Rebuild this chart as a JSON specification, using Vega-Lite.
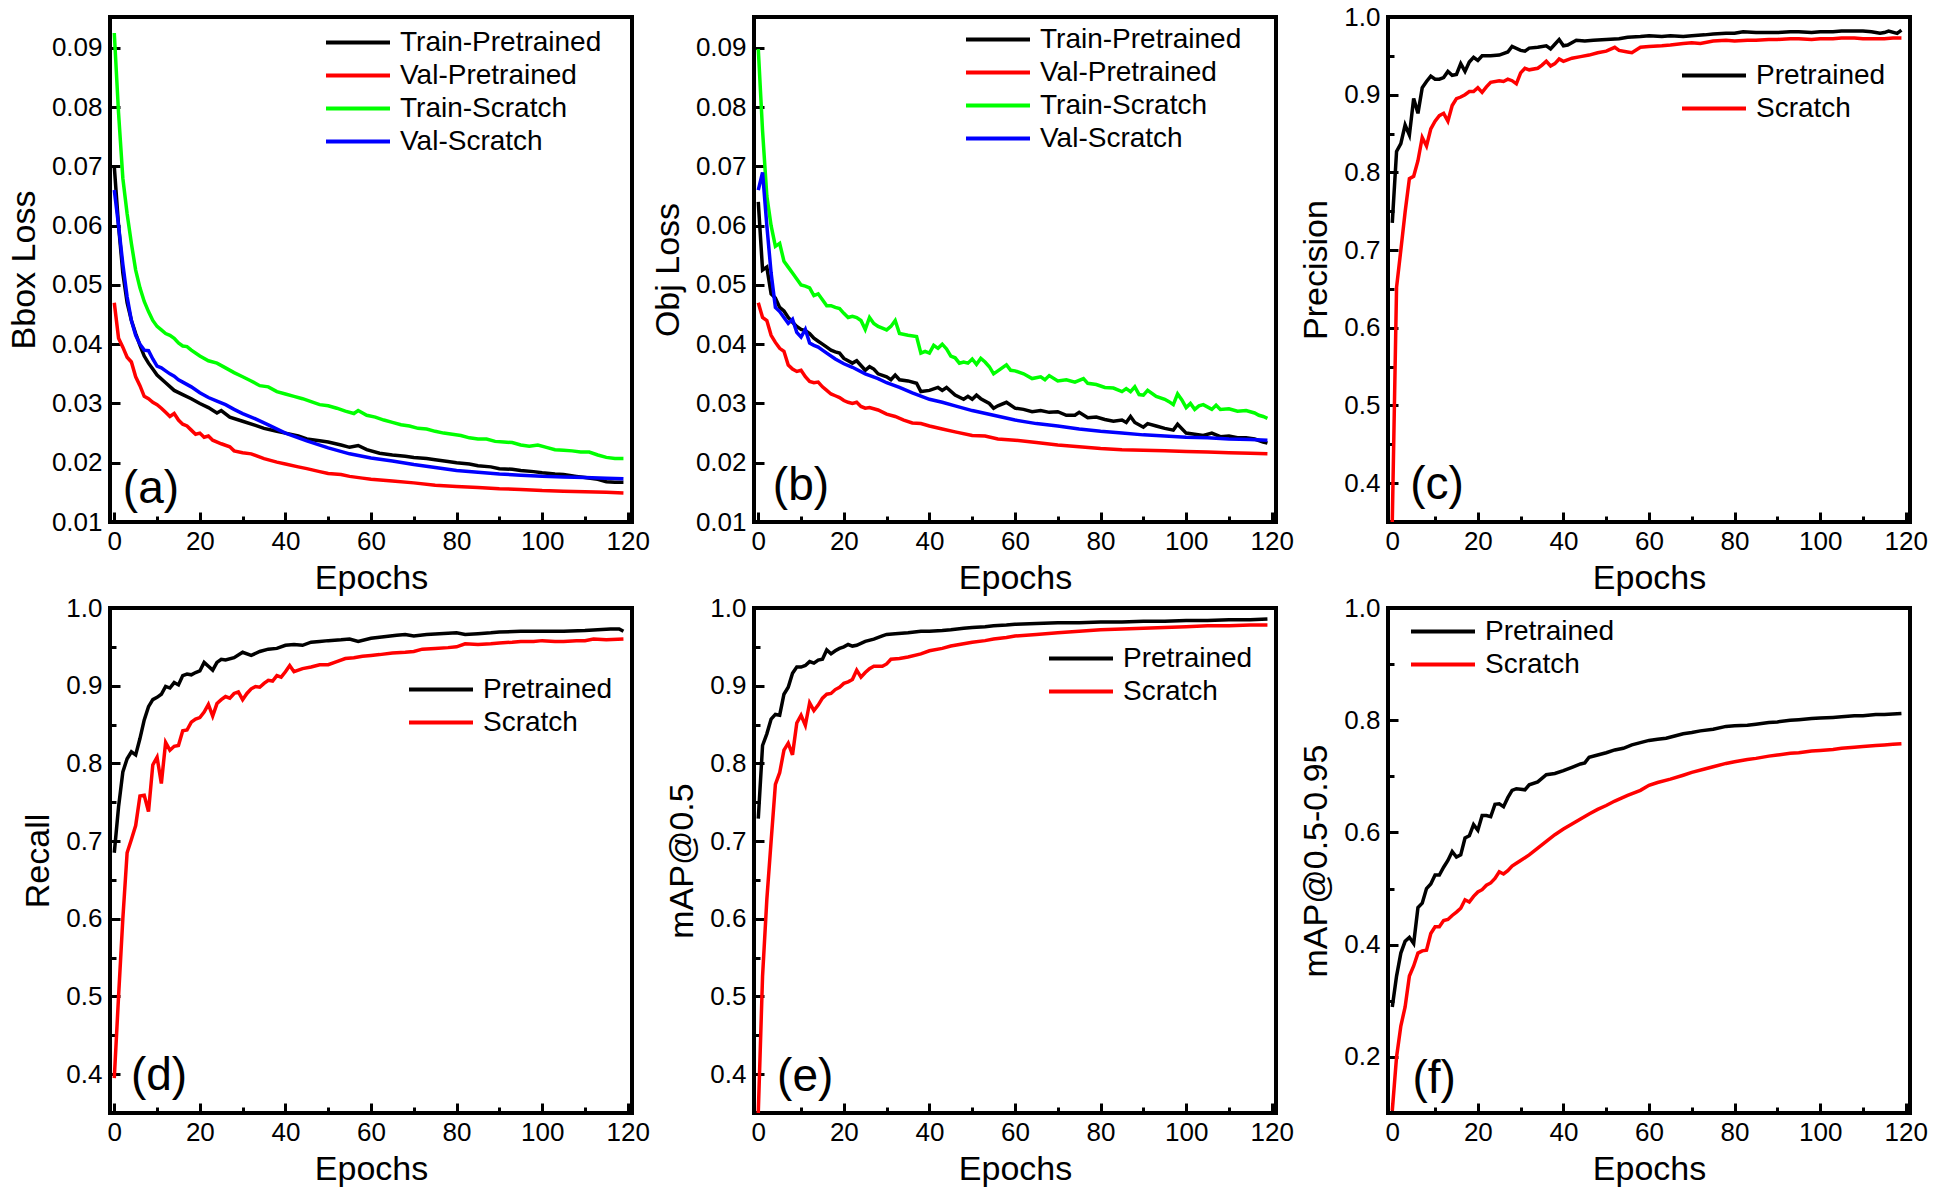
{
"$schema":"https://vega.github.io/schema/vega-lite/v6.json",
"background":"white",
"padding":{"left":5,"top":2,"right":0,"bottom":0},
"config":{
"font":"Liberation Sans",
"view":{"stroke":"#000000","strokeWidth":4},
"axis":{"domain":false,"grid":false,"labelFont":"Liberation Sans","labelFontSize":26,"labelColor":"#000000","titleFont":"Liberation Sans","titleFontSize":34,"titleFontWeight":"normal","titleColor":"#000000","tickColor":"#000000","tickWidth":3,"labelFlush":false,"labelOverlap":false},
"legend":{"orient":"none","labelFont":"Liberation Sans","labelFontSize":28,"labelColor":"#000000","labelLimit":500,"symbolType":"stroke","symbolStrokeWidth":4,"symbolSize":4096,"clipHeight":33,"rowPadding":0,"labelOffset":8,"padding":0}
},
"datasets":{
"a":[
{"e":0,"s":"TP","v":0.07},{"e":1,"s":"TP","v":0.06},{"e":2,"s":"TP","v":0.052},{"e":3,"s":"TP","v":0.047},{"e":4,"s":"TP","v":0.044},{"e":5,"s":"TP","v":0.0418},{"e":6,"s":"TP","v":0.0398},{"e":7,"s":"TP","v":0.038},{"e":8,"s":"TP","v":0.0368},{"e":9,"s":"TP","v":0.0358},{"e":10,"s":"TP","v":0.0348},{"e":12,"s":"TP","v":0.0335},{"e":14,"s":"TP","v":0.0322},{"e":16,"s":"TP","v":0.0315},{"e":18,"s":"TP","v":0.0308},{"e":20,"s":"TP","v":0.03},{"e":22,"s":"TP","v":0.0293},{"e":24,"s":"TP","v":0.0284},{"e":25,"s":"TP","v":0.0288},{"e":27,"s":"TP","v":0.0277},{"e":30,"s":"TP","v":0.027},{"e":33,"s":"TP","v":0.0263},{"e":35,"s":"TP","v":0.0258},{"e":38,"s":"TP","v":0.0253},{"e":40,"s":"TP","v":0.025},{"e":43,"s":"TP","v":0.0245},{"e":45,"s":"TP","v":0.024},{"e":48,"s":"TP","v":0.0237},{"e":50,"s":"TP","v":0.0235},{"e":53,"s":"TP","v":0.023},{"e":55,"s":"TP","v":0.0226},{"e":57,"s":"TP","v":0.0229},{"e":59,"s":"TP","v":0.0222},{"e":62,"s":"TP","v":0.0216},{"e":65,"s":"TP","v":0.0213},{"e":68,"s":"TP","v":0.0211},{"e":70,"s":"TP","v":0.0209},{"e":73,"s":"TP","v":0.0207},{"e":75,"s":"TP","v":0.0205},{"e":78,"s":"TP","v":0.0202},{"e":80,"s":"TP","v":0.02},{"e":83,"s":"TP","v":0.0198},{"e":85,"s":"TP","v":0.0195},{"e":88,"s":"TP","v":0.0193},{"e":90,"s":"TP","v":0.019},{"e":93,"s":"TP","v":0.0189},{"e":95,"s":"TP","v":0.0187},{"e":98,"s":"TP","v":0.0185},{"e":100,"s":"TP","v":0.0183},{"e":103,"s":"TP","v":0.0181},{"e":105,"s":"TP","v":0.018},{"e":108,"s":"TP","v":0.0177},{"e":110,"s":"TP","v":0.0175},{"e":113,"s":"TP","v":0.0172},{"e":115,"s":"TP","v":0.0168},{"e":117,"s":"TP","v":0.0167},{"e":119,"s":"TP","v":0.0167},
{"e":0,"s":"VP","v":0.047},{"e":1,"s":"VP","v":0.041},{"e":2,"s":"VP","v":0.0395},{"e":3,"s":"VP","v":0.0378},{"e":4,"s":"VP","v":0.037},{"e":5,"s":"VP","v":0.0345},{"e":6,"s":"VP","v":0.033},{"e":7,"s":"VP","v":0.0312},{"e":8,"s":"VP","v":0.0308},{"e":9,"s":"VP","v":0.0302},{"e":10,"s":"VP","v":0.0298},{"e":11,"s":"VP","v":0.0292},{"e":12,"s":"VP","v":0.0285},{"e":13,"s":"VP","v":0.0278},{"e":14,"s":"VP","v":0.0283},{"e":15,"s":"VP","v":0.0272},{"e":16,"s":"VP","v":0.0265},{"e":17,"s":"VP","v":0.0262},{"e":18,"s":"VP","v":0.0255},{"e":19,"s":"VP","v":0.0248},{"e":20,"s":"VP","v":0.025},{"e":21,"s":"VP","v":0.0243},{"e":22,"s":"VP","v":0.0245},{"e":23,"s":"VP","v":0.0238},{"e":25,"s":"VP","v":0.0232},{"e":27,"s":"VP","v":0.0227},{"e":28,"s":"VP","v":0.022},{"e":30,"s":"VP","v":0.0217},{"e":32,"s":"VP","v":0.0215},{"e":35,"s":"VP","v":0.0207},{"e":38,"s":"VP","v":0.0201},{"e":40,"s":"VP","v":0.0198},{"e":43,"s":"VP","v":0.0193},{"e":45,"s":"VP","v":0.019},{"e":48,"s":"VP","v":0.0185},{"e":50,"s":"VP","v":0.0182},{"e":53,"s":"VP","v":0.018},{"e":55,"s":"VP","v":0.0177},{"e":58,"s":"VP","v":0.0174},{"e":60,"s":"VP","v":0.0172},{"e":65,"s":"VP","v":0.0169},{"e":70,"s":"VP","v":0.0166},{"e":75,"s":"VP","v":0.0162},{"e":80,"s":"VP","v":0.016},{"e":85,"s":"VP","v":0.0158},{"e":90,"s":"VP","v":0.0156},{"e":95,"s":"VP","v":0.0155},{"e":100,"s":"VP","v":0.0153},{"e":105,"s":"VP","v":0.0152},{"e":110,"s":"VP","v":0.0151},{"e":115,"s":"VP","v":0.015},{"e":119,"s":"VP","v":0.0149},
{"e":0,"s":"TS","v":0.0925},{"e":1,"s":"TS","v":0.079},{"e":2,"s":"TS","v":0.068},{"e":3,"s":"TS","v":0.062},{"e":4,"s":"TS","v":0.057},{"e":5,"s":"TS","v":0.0525},{"e":6,"s":"TS","v":0.0495},{"e":7,"s":"TS","v":0.0472},{"e":8,"s":"TS","v":0.0455},{"e":9,"s":"TS","v":0.044},{"e":10,"s":"TS","v":0.043},{"e":11,"s":"TS","v":0.0424},{"e":12,"s":"TS","v":0.0418},{"e":13,"s":"TS","v":0.0415},{"e":14,"s":"TS","v":0.041},{"e":15,"s":"TS","v":0.0402},{"e":16,"s":"TS","v":0.0397},{"e":17,"s":"TS","v":0.0396},{"e":18,"s":"TS","v":0.039},{"e":20,"s":"TS","v":0.038},{"e":22,"s":"TS","v":0.0372},{"e":24,"s":"TS","v":0.0368},{"e":26,"s":"TS","v":0.036},{"e":28,"s":"TS","v":0.0352},{"e":30,"s":"TS","v":0.0345},{"e":32,"s":"TS","v":0.0338},{"e":34,"s":"TS","v":0.033},{"e":36,"s":"TS","v":0.0328},{"e":38,"s":"TS","v":0.032},{"e":40,"s":"TS","v":0.0316},{"e":42,"s":"TS","v":0.0312},{"e":44,"s":"TS","v":0.0308},{"e":46,"s":"TS","v":0.0303},{"e":48,"s":"TS","v":0.0298},{"e":50,"s":"TS","v":0.0296},{"e":52,"s":"TS","v":0.0292},{"e":54,"s":"TS","v":0.0287},{"e":56,"s":"TS","v":0.0283},{"e":57,"s":"TS","v":0.0288},{"e":59,"s":"TS","v":0.028},{"e":61,"s":"TS","v":0.0277},{"e":63,"s":"TS","v":0.0272},{"e":65,"s":"TS","v":0.0268},{"e":67,"s":"TS","v":0.0264},{"e":69,"s":"TS","v":0.0262},{"e":71,"s":"TS","v":0.0258},{"e":73,"s":"TS","v":0.0257},{"e":75,"s":"TS","v":0.0253},{"e":77,"s":"TS","v":0.025},{"e":79,"s":"TS","v":0.0248},{"e":81,"s":"TS","v":0.0246},{"e":83,"s":"TS","v":0.0242},{"e":85,"s":"TS","v":0.024},{"e":87,"s":"TS","v":0.024},{"e":89,"s":"TS","v":0.0236},{"e":91,"s":"TS","v":0.0235},{"e":93,"s":"TS","v":0.0234},{"e":95,"s":"TS","v":0.023},{"e":97,"s":"TS","v":0.0228},{"e":99,"s":"TS","v":0.023},{"e":101,"s":"TS","v":0.0226},{"e":103,"s":"TS","v":0.0222},{"e":105,"s":"TS","v":0.0221},{"e":107,"s":"TS","v":0.022},{"e":109,"s":"TS","v":0.0218},{"e":111,"s":"TS","v":0.0218},{"e":113,"s":"TS","v":0.0213},{"e":115,"s":"TS","v":0.0209},{"e":117,"s":"TS","v":0.0207},{"e":119,"s":"TS","v":0.0207},
{"e":0,"s":"VS","v":0.066},{"e":1,"s":"VS","v":0.06},{"e":2,"s":"VS","v":0.0535},{"e":3,"s":"VS","v":0.048},{"e":4,"s":"VS","v":0.044},{"e":5,"s":"VS","v":0.0415},{"e":6,"s":"VS","v":0.04},{"e":7,"s":"VS","v":0.039},{"e":8,"s":"VS","v":0.0389},{"e":9,"s":"VS","v":0.0375},{"e":10,"s":"VS","v":0.0363},{"e":11,"s":"VS","v":0.036},{"e":12,"s":"VS","v":0.0355},{"e":13,"s":"VS","v":0.035},{"e":14,"s":"VS","v":0.0346},{"e":15,"s":"VS","v":0.034},{"e":16,"s":"VS","v":0.0336},{"e":18,"s":"VS","v":0.0328},{"e":20,"s":"VS","v":0.0318},{"e":22,"s":"VS","v":0.031},{"e":24,"s":"VS","v":0.0304},{"e":26,"s":"VS","v":0.0298},{"e":28,"s":"VS","v":0.029},{"e":30,"s":"VS","v":0.0283},{"e":33,"s":"VS","v":0.0274},{"e":36,"s":"VS","v":0.0264},{"e":40,"s":"VS","v":0.025},{"e":45,"s":"VS","v":0.0237},{"e":50,"s":"VS","v":0.0225},{"e":55,"s":"VS","v":0.0215},{"e":60,"s":"VS","v":0.0208},{"e":65,"s":"VS","v":0.0203},{"e":70,"s":"VS","v":0.0197},{"e":75,"s":"VS","v":0.0192},{"e":80,"s":"VS","v":0.0187},{"e":85,"s":"VS","v":0.0184},{"e":90,"s":"VS","v":0.0181},{"e":95,"s":"VS","v":0.0179},{"e":100,"s":"VS","v":0.0177},{"e":105,"s":"VS","v":0.0176},{"e":110,"s":"VS","v":0.0175},{"e":115,"s":"VS","v":0.0174},{"e":119,"s":"VS","v":0.0173}
],
"b":[
{"e":0,"s":"TP","v":0.064},{"e":1,"s":"TP","v":0.0525},{"e":2,"s":"TP","v":0.053},{"e":3,"s":"TP","v":0.0485},{"e":4,"s":"TP","v":0.0478},{"e":5,"s":"TP","v":0.0462},{"e":6,"s":"TP","v":0.0456},{"e":7,"s":"TP","v":0.0445},{"e":8,"s":"TP","v":0.0437},{"e":9,"s":"TP","v":0.043},{"e":10,"s":"TP","v":0.0425},{"e":11,"s":"TP","v":0.0423},{"e":12,"s":"TP","v":0.0418},{"e":13,"s":"TP","v":0.041},{"e":14,"s":"TP","v":0.0405},{"e":15,"s":"TP","v":0.04},{"e":16,"s":"TP","v":0.0395},{"e":17,"s":"TP","v":0.039},{"e":18,"s":"TP","v":0.0387},{"e":19,"s":"TP","v":0.0385},{"e":20,"s":"TP","v":0.0376},{"e":21,"s":"TP","v":0.0372},{"e":22,"s":"TP","v":0.0368},{"e":23,"s":"TP","v":0.0372},{"e":24,"s":"TP","v":0.0364},{"e":25,"s":"TP","v":0.0356},{"e":26,"s":"TP","v":0.0362},{"e":27,"s":"TP","v":0.0358},{"e":28,"s":"TP","v":0.035},{"e":30,"s":"TP","v":0.0345},{"e":31,"s":"TP","v":0.034},{"e":32,"s":"TP","v":0.0348},{"e":33,"s":"TP","v":0.034},{"e":35,"s":"TP","v":0.0338},{"e":37,"s":"TP","v":0.0334},{"e":38,"s":"TP","v":0.032},{"e":40,"s":"TP","v":0.0322},{"e":42,"s":"TP","v":0.0327},{"e":43,"s":"TP","v":0.0322},{"e":44,"s":"TP","v":0.0327},{"e":46,"s":"TP","v":0.0314},{"e":48,"s":"TP","v":0.0307},{"e":49,"s":"TP","v":0.0312},{"e":50,"s":"TP","v":0.0307},{"e":51,"s":"TP","v":0.0314},{"e":52,"s":"TP","v":0.0308},{"e":54,"s":"TP","v":0.03},{"e":55,"s":"TP","v":0.0292},{"e":56,"s":"TP","v":0.0296},{"e":58,"s":"TP","v":0.0302},{"e":60,"s":"TP","v":0.0292},{"e":62,"s":"TP","v":0.029},{"e":64,"s":"TP","v":0.0286},{"e":66,"s":"TP","v":0.0288},{"e":68,"s":"TP","v":0.0285},{"e":70,"s":"TP","v":0.0286},{"e":72,"s":"TP","v":0.028},{"e":74,"s":"TP","v":0.028},{"e":75,"s":"TP","v":0.0285},{"e":77,"s":"TP","v":0.0276},{"e":79,"s":"TP","v":0.0277},{"e":81,"s":"TP","v":0.0273},{"e":83,"s":"TP","v":0.027},{"e":85,"s":"TP","v":0.0272},{"e":86,"s":"TP","v":0.0268},{"e":87,"s":"TP","v":0.0278},{"e":88,"s":"TP","v":0.0268},{"e":90,"s":"TP","v":0.026},{"e":91,"s":"TP","v":0.0266},{"e":93,"s":"TP","v":0.0262},{"e":95,"s":"TP","v":0.0258},{"e":97,"s":"TP","v":0.0255},{"e":98,"s":"TP","v":0.0265},{"e":100,"s":"TP","v":0.025},{"e":102,"s":"TP","v":0.0248},{"e":104,"s":"TP","v":0.0246},{"e":106,"s":"TP","v":0.025},{"e":108,"s":"TP","v":0.0244},{"e":110,"s":"TP","v":0.0245},{"e":112,"s":"TP","v":0.0242},{"e":114,"s":"TP","v":0.0242},{"e":116,"s":"TP","v":0.024},{"e":118,"s":"TP","v":0.0235},{"e":119,"s":"TP","v":0.0233},
{"e":0,"s":"VP","v":0.047},{"e":1,"s":"VP","v":0.0445},{"e":2,"s":"VP","v":0.044},{"e":3,"s":"VP","v":0.0415},{"e":4,"s":"VP","v":0.0403},{"e":5,"s":"VP","v":0.0393},{"e":6,"s":"VP","v":0.0388},{"e":7,"s":"VP","v":0.0365},{"e":8,"s":"VP","v":0.0358},{"e":9,"s":"VP","v":0.0354},{"e":10,"s":"VP","v":0.0356},{"e":11,"s":"VP","v":0.0345},{"e":12,"s":"VP","v":0.0337},{"e":13,"s":"VP","v":0.0335},{"e":14,"s":"VP","v":0.0336},{"e":15,"s":"VP","v":0.0328},{"e":16,"s":"VP","v":0.0322},{"e":17,"s":"VP","v":0.0316},{"e":18,"s":"VP","v":0.0313},{"e":19,"s":"VP","v":0.031},{"e":20,"s":"VP","v":0.0305},{"e":21,"s":"VP","v":0.0302},{"e":22,"s":"VP","v":0.03},{"e":23,"s":"VP","v":0.0302},{"e":24,"s":"VP","v":0.0295},{"e":25,"s":"VP","v":0.0292},{"e":26,"s":"VP","v":0.0293},{"e":28,"s":"VP","v":0.0289},{"e":30,"s":"VP","v":0.0282},{"e":32,"s":"VP","v":0.0278},{"e":34,"s":"VP","v":0.0272},{"e":36,"s":"VP","v":0.0267},{"e":38,"s":"VP","v":0.0266},{"e":40,"s":"VP","v":0.0262},{"e":43,"s":"VP","v":0.0257},{"e":46,"s":"VP","v":0.0252},{"e":50,"s":"VP","v":0.0246},{"e":53,"s":"VP","v":0.0245},{"e":56,"s":"VP","v":0.024},{"e":60,"s":"VP","v":0.0238},{"e":65,"s":"VP","v":0.0234},{"e":70,"s":"VP","v":0.023},{"e":75,"s":"VP","v":0.0227},{"e":80,"s":"VP","v":0.0224},{"e":85,"s":"VP","v":0.0222},{"e":90,"s":"VP","v":0.0221},{"e":95,"s":"VP","v":0.022},{"e":100,"s":"VP","v":0.0219},{"e":105,"s":"VP","v":0.0218},{"e":110,"s":"VP","v":0.0217},{"e":115,"s":"VP","v":0.0216},{"e":119,"s":"VP","v":0.0215},
{"e":0,"s":"TS","v":0.0898},{"e":1,"s":"TS","v":0.076},{"e":2,"s":"TS","v":0.065},{"e":3,"s":"TS","v":0.06},{"e":4,"s":"TS","v":0.0565},{"e":5,"s":"TS","v":0.057},{"e":6,"s":"TS","v":0.054},{"e":7,"s":"TS","v":0.053},{"e":8,"s":"TS","v":0.052},{"e":9,"s":"TS","v":0.051},{"e":10,"s":"TS","v":0.05},{"e":11,"s":"TS","v":0.0498},{"e":12,"s":"TS","v":0.0495},{"e":13,"s":"TS","v":0.0482},{"e":14,"s":"TS","v":0.0485},{"e":15,"s":"TS","v":0.0475},{"e":16,"s":"TS","v":0.0465},{"e":17,"s":"TS","v":0.0465},{"e":18,"s":"TS","v":0.0462},{"e":19,"s":"TS","v":0.046},{"e":20,"s":"TS","v":0.0452},{"e":21,"s":"TS","v":0.0445},{"e":22,"s":"TS","v":0.0447},{"e":23,"s":"TS","v":0.0445},{"e":24,"s":"TS","v":0.044},{"e":25,"s":"TS","v":0.0425},{"e":26,"s":"TS","v":0.0445},{"e":27,"s":"TS","v":0.0435},{"e":28,"s":"TS","v":0.043},{"e":29,"s":"TS","v":0.0427},{"e":30,"s":"TS","v":0.0424},{"e":31,"s":"TS","v":0.043},{"e":32,"s":"TS","v":0.044},{"e":33,"s":"TS","v":0.0418},{"e":35,"s":"TS","v":0.0415},{"e":37,"s":"TS","v":0.0413},{"e":38,"s":"TS","v":0.0385},{"e":39,"s":"TS","v":0.0388},{"e":40,"s":"TS","v":0.0385},{"e":41,"s":"TS","v":0.0398},{"e":42,"s":"TS","v":0.0393},{"e":43,"s":"TS","v":0.04},{"e":44,"s":"TS","v":0.0392},{"e":45,"s":"TS","v":0.038},{"e":46,"s":"TS","v":0.0377},{"e":47,"s":"TS","v":0.0368},{"e":48,"s":"TS","v":0.037},{"e":49,"s":"TS","v":0.0368},{"e":50,"s":"TS","v":0.0375},{"e":51,"s":"TS","v":0.0366},{"e":52,"s":"TS","v":0.0376},{"e":53,"s":"TS","v":0.037},{"e":54,"s":"TS","v":0.0362},{"e":55,"s":"TS","v":0.035},{"e":56,"s":"TS","v":0.0355},{"e":58,"s":"TS","v":0.0365},{"e":59,"s":"TS","v":0.0356},{"e":60,"s":"TS","v":0.0355},{"e":62,"s":"TS","v":0.035},{"e":64,"s":"TS","v":0.0342},{"e":66,"s":"TS","v":0.0345},{"e":67,"s":"TS","v":0.034},{"e":68,"s":"TS","v":0.0347},{"e":70,"s":"TS","v":0.0338},{"e":72,"s":"TS","v":0.034},{"e":74,"s":"TS","v":0.0336},{"e":76,"s":"TS","v":0.0342},{"e":77,"s":"TS","v":0.0334},{"e":79,"s":"TS","v":0.0332},{"e":81,"s":"TS","v":0.0327},{"e":83,"s":"TS","v":0.0326},{"e":85,"s":"TS","v":0.032},{"e":86,"s":"TS","v":0.0325},{"e":87,"s":"TS","v":0.032},{"e":88,"s":"TS","v":0.0328},{"e":89,"s":"TS","v":0.0315},{"e":90,"s":"TS","v":0.0314},{"e":91,"s":"TS","v":0.0322},{"e":93,"s":"TS","v":0.0312},{"e":95,"s":"TS","v":0.0307},{"e":96,"s":"TS","v":0.0303},{"e":97,"s":"TS","v":0.0298},{"e":98,"s":"TS","v":0.0316},{"e":99,"s":"TS","v":0.0306},{"e":100,"s":"TS","v":0.0293},{"e":101,"s":"TS","v":0.03},{"e":102,"s":"TS","v":0.029},{"e":103,"s":"TS","v":0.0296},{"e":104,"s":"TS","v":0.0298},{"e":106,"s":"TS","v":0.029},{"e":107,"s":"TS","v":0.0297},{"e":108,"s":"TS","v":0.029},{"e":110,"s":"TS","v":0.0291},{"e":112,"s":"TS","v":0.0287},{"e":114,"s":"TS","v":0.0288},{"e":116,"s":"TS","v":0.0284},{"e":117,"s":"TS","v":0.028},{"e":118,"s":"TS","v":0.0278},{"e":119,"s":"TS","v":0.0275},
{"e":0,"s":"VS","v":0.066},{"e":1,"s":"VS","v":0.069},{"e":2,"s":"VS","v":0.06},{"e":3,"s":"VS","v":0.052},{"e":4,"s":"VS","v":0.0462},{"e":5,"s":"VS","v":0.0455},{"e":6,"s":"VS","v":0.0445},{"e":7,"s":"VS","v":0.0435},{"e":8,"s":"VS","v":0.0442},{"e":9,"s":"VS","v":0.042},{"e":10,"s":"VS","v":0.0412},{"e":11,"s":"VS","v":0.0425},{"e":12,"s":"VS","v":0.0402},{"e":13,"s":"VS","v":0.0398},{"e":14,"s":"VS","v":0.0395},{"e":15,"s":"VS","v":0.039},{"e":16,"s":"VS","v":0.0385},{"e":18,"s":"VS","v":0.0375},{"e":20,"s":"VS","v":0.0367},{"e":22,"s":"VS","v":0.0361},{"e":25,"s":"VS","v":0.035},{"e":28,"s":"VS","v":0.0342},{"e":30,"s":"VS","v":0.0335},{"e":33,"s":"VS","v":0.0327},{"e":36,"s":"VS","v":0.0318},{"e":40,"s":"VS","v":0.0307},{"e":43,"s":"VS","v":0.0302},{"e":46,"s":"VS","v":0.0296},{"e":50,"s":"VS","v":0.0288},{"e":55,"s":"VS","v":0.028},{"e":60,"s":"VS","v":0.0272},{"e":65,"s":"VS","v":0.0266},{"e":70,"s":"VS","v":0.0262},{"e":75,"s":"VS","v":0.0257},{"e":80,"s":"VS","v":0.0253},{"e":85,"s":"VS","v":0.025},{"e":90,"s":"VS","v":0.0247},{"e":95,"s":"VS","v":0.0245},{"e":100,"s":"VS","v":0.0243},{"e":105,"s":"VS","v":0.0242},{"e":110,"s":"VS","v":0.024},{"e":115,"s":"VS","v":0.0239},{"e":119,"s":"VS","v":0.0238}
],
"c":[
{"e":0,"s":"P","v":0.735},{"e":1,"s":"P","v":0.827},{"e":2,"s":"P","v":0.837},{"e":3,"s":"P","v":0.861},{"e":4,"s":"P","v":0.848},{"e":5,"s":"P","v":0.895},{"e":6,"s":"P","v":0.876},{"e":7,"s":"P","v":0.909},{"e":8,"s":"P","v":0.917},{"e":9,"s":"P","v":0.924},{"e":10,"s":"P","v":0.92},{"e":11,"s":"P","v":0.92},{"e":12,"s":"P","v":0.922},{"e":13,"s":"P","v":0.93},{"e":14,"s":"P","v":0.925},{"e":15,"s":"P","v":0.926},{"e":16,"s":"P","v":0.94},{"e":17,"s":"P","v":0.93},{"e":18,"s":"P","v":0.942},{"e":19,"s":"P","v":0.948},{"e":20,"s":"P","v":0.944},{"e":21,"s":"P","v":0.95},{"e":23,"s":"P","v":0.95},{"e":25,"s":"P","v":0.951},{"e":27,"s":"P","v":0.955},{"e":28,"s":"P","v":0.962},{"e":30,"s":"P","v":0.957},{"e":31,"s":"P","v":0.956},{"e":32,"s":"P","v":0.96},{"e":34,"s":"P","v":0.961},{"e":36,"s":"P","v":0.963},{"e":37,"s":"P","v":0.959},{"e":38,"s":"P","v":0.965},{"e":39,"s":"P","v":0.971},{"e":40,"s":"P","v":0.963},{"e":41,"s":"P","v":0.964},{"e":43,"s":"P","v":0.97},{"e":45,"s":"P","v":0.969},{"e":47,"s":"P","v":0.97},{"e":50,"s":"P","v":0.971},{"e":53,"s":"P","v":0.972},{"e":55,"s":"P","v":0.974},{"e":58,"s":"P","v":0.975},{"e":60,"s":"P","v":0.976},{"e":63,"s":"P","v":0.975},{"e":65,"s":"P","v":0.976},{"e":68,"s":"P","v":0.975},{"e":70,"s":"P","v":0.976},{"e":73,"s":"P","v":0.977},{"e":75,"s":"P","v":0.978},{"e":78,"s":"P","v":0.979},{"e":80,"s":"P","v":0.979},{"e":82,"s":"P","v":0.981},{"e":85,"s":"P","v":0.98},{"e":88,"s":"P","v":0.98},{"e":90,"s":"P","v":0.98},{"e":93,"s":"P","v":0.981},{"e":95,"s":"P","v":0.981},{"e":98,"s":"P","v":0.98},{"e":100,"s":"P","v":0.981},{"e":103,"s":"P","v":0.981},{"e":105,"s":"P","v":0.982},{"e":108,"s":"P","v":0.982},{"e":110,"s":"P","v":0.982},{"e":112,"s":"P","v":0.981},{"e":114,"s":"P","v":0.979},{"e":115,"s":"P","v":0.98},{"e":116,"s":"P","v":0.982},{"e":118,"s":"P","v":0.979},{"e":119,"s":"P","v":0.983},
{"e":0,"s":"S","v":0.35},{"e":1,"s":"S","v":0.652},{"e":2,"s":"S","v":0.7},{"e":3,"s":"S","v":0.749},{"e":4,"s":"S","v":0.792},{"e":5,"s":"S","v":0.795},{"e":6,"s":"S","v":0.815},{"e":7,"s":"S","v":0.845},{"e":8,"s":"S","v":0.834},{"e":9,"s":"S","v":0.856},{"e":10,"s":"S","v":0.866},{"e":11,"s":"S","v":0.873},{"e":12,"s":"S","v":0.876},{"e":13,"s":"S","v":0.866},{"e":14,"s":"S","v":0.886},{"e":15,"s":"S","v":0.895},{"e":16,"s":"S","v":0.897},{"e":17,"s":"S","v":0.9},{"e":18,"s":"S","v":0.904},{"e":19,"s":"S","v":0.904},{"e":20,"s":"S","v":0.909},{"e":21,"s":"S","v":0.903},{"e":22,"s":"S","v":0.91},{"e":23,"s":"S","v":0.916},{"e":25,"s":"S","v":0.918},{"e":26,"s":"S","v":0.917},{"e":27,"s":"S","v":0.92},{"e":28,"s":"S","v":0.918},{"e":29,"s":"S","v":0.914},{"e":30,"s":"S","v":0.928},{"e":31,"s":"S","v":0.934},{"e":32,"s":"S","v":0.932},{"e":34,"s":"S","v":0.934},{"e":35,"s":"S","v":0.938},{"e":36,"s":"S","v":0.943},{"e":37,"s":"S","v":0.937},{"e":38,"s":"S","v":0.94},{"e":39,"s":"S","v":0.946},{"e":40,"s":"S","v":0.943},{"e":42,"s":"S","v":0.947},{"e":44,"s":"S","v":0.949},{"e":46,"s":"S","v":0.951},{"e":48,"s":"S","v":0.954},{"e":50,"s":"S","v":0.956},{"e":52,"s":"S","v":0.961},{"e":53,"s":"S","v":0.957},{"e":55,"s":"S","v":0.955},{"e":56,"s":"S","v":0.954},{"e":58,"s":"S","v":0.961},{"e":60,"s":"S","v":0.962},{"e":63,"s":"S","v":0.963},{"e":65,"s":"S","v":0.964},{"e":68,"s":"S","v":0.966},{"e":70,"s":"S","v":0.967},{"e":72,"s":"S","v":0.966},{"e":75,"s":"S","v":0.969},{"e":78,"s":"S","v":0.97},{"e":80,"s":"S","v":0.969},{"e":83,"s":"S","v":0.97},{"e":85,"s":"S","v":0.97},{"e":88,"s":"S","v":0.971},{"e":90,"s":"S","v":0.971},{"e":93,"s":"S","v":0.972},{"e":95,"s":"S","v":0.972},{"e":98,"s":"S","v":0.971},{"e":100,"s":"S","v":0.972},{"e":103,"s":"S","v":0.972},{"e":105,"s":"S","v":0.973},{"e":108,"s":"S","v":0.973},{"e":110,"s":"S","v":0.972},{"e":113,"s":"S","v":0.972},{"e":115,"s":"S","v":0.972},{"e":117,"s":"S","v":0.973},{"e":119,"s":"S","v":0.973}
],
"d":[
{"e":0,"s":"P","v":0.685},{"e":1,"s":"P","v":0.744},{"e":2,"s":"P","v":0.789},{"e":3,"s":"P","v":0.806},{"e":4,"s":"P","v":0.815},{"e":5,"s":"P","v":0.811},{"e":6,"s":"P","v":0.832},{"e":7,"s":"P","v":0.856},{"e":8,"s":"P","v":0.873},{"e":9,"s":"P","v":0.882},{"e":10,"s":"P","v":0.885},{"e":11,"s":"P","v":0.889},{"e":12,"s":"P","v":0.899},{"e":13,"s":"P","v":0.897},{"e":14,"s":"P","v":0.904},{"e":15,"s":"P","v":0.901},{"e":16,"s":"P","v":0.913},{"e":17,"s":"P","v":0.915},{"e":18,"s":"P","v":0.914},{"e":19,"s":"P","v":0.917},{"e":20,"s":"P","v":0.919},{"e":21,"s":"P","v":0.93},{"e":22,"s":"P","v":0.925},{"e":23,"s":"P","v":0.92},{"e":24,"s":"P","v":0.93},{"e":25,"s":"P","v":0.934},{"e":26,"s":"P","v":0.933},{"e":28,"s":"P","v":0.936},{"e":30,"s":"P","v":0.943},{"e":32,"s":"P","v":0.939},{"e":34,"s":"P","v":0.944},{"e":36,"s":"P","v":0.947},{"e":38,"s":"P","v":0.948},{"e":40,"s":"P","v":0.952},{"e":42,"s":"P","v":0.953},{"e":44,"s":"P","v":0.952},{"e":46,"s":"P","v":0.956},{"e":48,"s":"P","v":0.957},{"e":50,"s":"P","v":0.958},{"e":53,"s":"P","v":0.959},{"e":55,"s":"P","v":0.96},{"e":57,"s":"P","v":0.957},{"e":60,"s":"P","v":0.961},{"e":63,"s":"P","v":0.963},{"e":66,"s":"P","v":0.965},{"e":68,"s":"P","v":0.966},{"e":70,"s":"P","v":0.964},{"e":73,"s":"P","v":0.966},{"e":76,"s":"P","v":0.967},{"e":80,"s":"P","v":0.968},{"e":82,"s":"P","v":0.966},{"e":85,"s":"P","v":0.967},{"e":88,"s":"P","v":0.968},{"e":90,"s":"P","v":0.969},{"e":95,"s":"P","v":0.97},{"e":100,"s":"P","v":0.97},{"e":105,"s":"P","v":0.97},{"e":110,"s":"P","v":0.971},{"e":113,"s":"P","v":0.972},{"e":116,"s":"P","v":0.973},{"e":118,"s":"P","v":0.973},{"e":119,"s":"P","v":0.97},
{"e":0,"s":"S","v":0.395},{"e":1,"s":"S","v":0.5},{"e":2,"s":"S","v":0.6},{"e":3,"s":"S","v":0.685},{"e":4,"s":"S","v":0.702},{"e":5,"s":"S","v":0.72},{"e":6,"s":"S","v":0.758},{"e":7,"s":"S","v":0.759},{"e":8,"s":"S","v":0.738},{"e":9,"s":"S","v":0.798},{"e":10,"s":"S","v":0.808},{"e":11,"s":"S","v":0.774},{"e":12,"s":"S","v":0.827},{"e":13,"s":"S","v":0.817},{"e":14,"s":"S","v":0.822},{"e":15,"s":"S","v":0.823},{"e":16,"s":"S","v":0.842},{"e":17,"s":"S","v":0.843},{"e":18,"s":"S","v":0.853},{"e":19,"s":"S","v":0.857},{"e":20,"s":"S","v":0.859},{"e":21,"s":"S","v":0.866},{"e":22,"s":"S","v":0.876},{"e":23,"s":"S","v":0.861},{"e":24,"s":"S","v":0.877},{"e":25,"s":"S","v":0.882},{"e":26,"s":"S","v":0.886},{"e":27,"s":"S","v":0.884},{"e":28,"s":"S","v":0.89},{"e":29,"s":"S","v":0.892},{"e":30,"s":"S","v":0.882},{"e":31,"s":"S","v":0.89},{"e":32,"s":"S","v":0.896},{"e":33,"s":"S","v":0.899},{"e":34,"s":"S","v":0.898},{"e":35,"s":"S","v":0.903},{"e":36,"s":"S","v":0.907},{"e":37,"s":"S","v":0.906},{"e":38,"s":"S","v":0.913},{"e":39,"s":"S","v":0.911},{"e":40,"s":"S","v":0.918},{"e":41,"s":"S","v":0.926},{"e":42,"s":"S","v":0.918},{"e":44,"s":"S","v":0.922},{"e":46,"s":"S","v":0.924},{"e":48,"s":"S","v":0.927},{"e":50,"s":"S","v":0.927},{"e":52,"s":"S","v":0.931},{"e":54,"s":"S","v":0.935},{"e":56,"s":"S","v":0.936},{"e":58,"s":"S","v":0.938},{"e":60,"s":"S","v":0.939},{"e":62,"s":"S","v":0.94},{"e":65,"s":"S","v":0.942},{"e":68,"s":"S","v":0.943},{"e":70,"s":"S","v":0.944},{"e":72,"s":"S","v":0.947},{"e":75,"s":"S","v":0.948},{"e":78,"s":"S","v":0.949},{"e":80,"s":"S","v":0.95},{"e":82,"s":"S","v":0.954},{"e":85,"s":"S","v":0.953},{"e":88,"s":"S","v":0.954},{"e":90,"s":"S","v":0.955},{"e":93,"s":"S","v":0.956},{"e":95,"s":"S","v":0.957},{"e":98,"s":"S","v":0.957},{"e":100,"s":"S","v":0.958},{"e":103,"s":"S","v":0.957},{"e":105,"s":"S","v":0.957},{"e":108,"s":"S","v":0.958},{"e":110,"s":"S","v":0.958},{"e":112,"s":"S","v":0.96},{"e":115,"s":"S","v":0.959},{"e":119,"s":"S","v":0.96}
],
"e":[
{"e":0,"s":"P","v":0.729},{"e":1,"s":"P","v":0.823},{"e":2,"s":"P","v":0.838},{"e":3,"s":"P","v":0.857},{"e":4,"s":"P","v":0.863},{"e":5,"s":"P","v":0.862},{"e":6,"s":"P","v":0.889},{"e":7,"s":"P","v":0.898},{"e":8,"s":"P","v":0.916},{"e":9,"s":"P","v":0.924},{"e":10,"s":"P","v":0.924},{"e":11,"s":"P","v":0.926},{"e":12,"s":"P","v":0.931},{"e":13,"s":"P","v":0.929},{"e":14,"s":"P","v":0.933},{"e":15,"s":"P","v":0.934},{"e":16,"s":"P","v":0.946},{"e":17,"s":"P","v":0.941},{"e":18,"s":"P","v":0.945},{"e":19,"s":"P","v":0.948},{"e":20,"s":"P","v":0.95},{"e":21,"s":"P","v":0.953},{"e":22,"s":"P","v":0.951},{"e":23,"s":"P","v":0.952},{"e":25,"s":"P","v":0.957},{"e":27,"s":"P","v":0.96},{"e":29,"s":"P","v":0.964},{"e":30,"s":"P","v":0.966},{"e":32,"s":"P","v":0.967},{"e":35,"s":"P","v":0.968},{"e":38,"s":"P","v":0.97},{"e":40,"s":"P","v":0.97},{"e":43,"s":"P","v":0.971},{"e":45,"s":"P","v":0.972},{"e":48,"s":"P","v":0.974},{"e":50,"s":"P","v":0.975},{"e":53,"s":"P","v":0.976},{"e":55,"s":"P","v":0.977},{"e":58,"s":"P","v":0.978},{"e":60,"s":"P","v":0.979},{"e":65,"s":"P","v":0.98},{"e":70,"s":"P","v":0.981},{"e":75,"s":"P","v":0.981},{"e":80,"s":"P","v":0.982},{"e":85,"s":"P","v":0.982},{"e":90,"s":"P","v":0.983},{"e":95,"s":"P","v":0.983},{"e":100,"s":"P","v":0.984},{"e":105,"s":"P","v":0.984},{"e":110,"s":"P","v":0.985},{"e":115,"s":"P","v":0.985},{"e":119,"s":"P","v":0.986},
{"e":0,"s":"S","v":0.35},{"e":1,"s":"S","v":0.526},{"e":2,"s":"S","v":0.625},{"e":3,"s":"S","v":0.7},{"e":4,"s":"S","v":0.773},{"e":5,"s":"S","v":0.788},{"e":6,"s":"S","v":0.817},{"e":7,"s":"S","v":0.826},{"e":8,"s":"S","v":0.811},{"e":9,"s":"S","v":0.852},{"e":10,"s":"S","v":0.862},{"e":11,"s":"S","v":0.849},{"e":12,"s":"S","v":0.878},{"e":13,"s":"S","v":0.868},{"e":14,"s":"S","v":0.875},{"e":15,"s":"S","v":0.884},{"e":16,"s":"S","v":0.889},{"e":17,"s":"S","v":0.89},{"e":18,"s":"S","v":0.895},{"e":19,"s":"S","v":0.898},{"e":20,"s":"S","v":0.903},{"e":21,"s":"S","v":0.905},{"e":22,"s":"S","v":0.908},{"e":23,"s":"S","v":0.92},{"e":24,"s":"S","v":0.911},{"e":25,"s":"S","v":0.917},{"e":26,"s":"S","v":0.922},{"e":27,"s":"S","v":0.925},{"e":29,"s":"S","v":0.925},{"e":30,"s":"S","v":0.928},{"e":31,"s":"S","v":0.934},{"e":33,"s":"S","v":0.935},{"e":35,"s":"S","v":0.937},{"e":38,"s":"S","v":0.941},{"e":40,"s":"S","v":0.945},{"e":43,"s":"S","v":0.948},{"e":45,"s":"S","v":0.951},{"e":48,"s":"S","v":0.954},{"e":50,"s":"S","v":0.956},{"e":53,"s":"S","v":0.958},{"e":55,"s":"S","v":0.96},{"e":58,"s":"S","v":0.962},{"e":60,"s":"S","v":0.964},{"e":65,"s":"S","v":0.966},{"e":70,"s":"S","v":0.968},{"e":75,"s":"S","v":0.97},{"e":80,"s":"S","v":0.972},{"e":85,"s":"S","v":0.973},{"e":90,"s":"S","v":0.974},{"e":95,"s":"S","v":0.975},{"e":100,"s":"S","v":0.976},{"e":105,"s":"S","v":0.977},{"e":110,"s":"S","v":0.977},{"e":115,"s":"S","v":0.978},{"e":119,"s":"S","v":0.978}
],
"f":[
{"e":0,"s":"P","v":0.289},{"e":1,"s":"P","v":0.344},{"e":2,"s":"P","v":0.385},{"e":3,"s":"P","v":0.406},{"e":4,"s":"P","v":0.413},{"e":5,"s":"P","v":0.402},{"e":6,"s":"P","v":0.466},{"e":7,"s":"P","v":0.474},{"e":8,"s":"P","v":0.5},{"e":9,"s":"P","v":0.508},{"e":10,"s":"P","v":0.524},{"e":11,"s":"P","v":0.524},{"e":12,"s":"P","v":0.538},{"e":13,"s":"P","v":0.55},{"e":14,"s":"P","v":0.566},{"e":15,"s":"P","v":0.556},{"e":16,"s":"P","v":0.56},{"e":17,"s":"P","v":0.59},{"e":18,"s":"P","v":0.594},{"e":19,"s":"P","v":0.614},{"e":20,"s":"P","v":0.604},{"e":21,"s":"P","v":0.63},{"e":22,"s":"P","v":0.63},{"e":23,"s":"P","v":0.628},{"e":24,"s":"P","v":0.65},{"e":25,"s":"P","v":0.651},{"e":26,"s":"P","v":0.646},{"e":27,"s":"P","v":0.662},{"e":28,"s":"P","v":0.675},{"e":29,"s":"P","v":0.678},{"e":30,"s":"P","v":0.677},{"e":31,"s":"P","v":0.676},{"e":32,"s":"P","v":0.685},{"e":34,"s":"P","v":0.69},{"e":36,"s":"P","v":0.703},{"e":38,"s":"P","v":0.705},{"e":40,"s":"P","v":0.71},{"e":42,"s":"P","v":0.716},{"e":44,"s":"P","v":0.722},{"e":45,"s":"P","v":0.724},{"e":46,"s":"P","v":0.734},{"e":48,"s":"P","v":0.738},{"e":50,"s":"P","v":0.742},{"e":52,"s":"P","v":0.747},{"e":54,"s":"P","v":0.75},{"e":56,"s":"P","v":0.756},{"e":58,"s":"P","v":0.76},{"e":60,"s":"P","v":0.764},{"e":62,"s":"P","v":0.766},{"e":64,"s":"P","v":0.768},{"e":66,"s":"P","v":0.772},{"e":68,"s":"P","v":0.776},{"e":70,"s":"P","v":0.778},{"e":72,"s":"P","v":0.781},{"e":75,"s":"P","v":0.784},{"e":78,"s":"P","v":0.789},{"e":80,"s":"P","v":0.79},{"e":83,"s":"P","v":0.791},{"e":85,"s":"P","v":0.793},{"e":88,"s":"P","v":0.796},{"e":90,"s":"P","v":0.797},{"e":93,"s":"P","v":0.8},{"e":95,"s":"P","v":0.801},{"e":98,"s":"P","v":0.803},{"e":100,"s":"P","v":0.804},{"e":103,"s":"P","v":0.805},{"e":105,"s":"P","v":0.806},{"e":108,"s":"P","v":0.808},{"e":110,"s":"P","v":0.808},{"e":113,"s":"P","v":0.81},{"e":115,"s":"P","v":0.81},{"e":117,"s":"P","v":0.811},{"e":119,"s":"P","v":0.812},
{"e":0,"s":"S","v":0.104},{"e":1,"s":"S","v":0.2},{"e":2,"s":"S","v":0.255},{"e":3,"s":"S","v":0.289},{"e":4,"s":"S","v":0.344},{"e":5,"s":"S","v":0.362},{"e":6,"s":"S","v":0.385},{"e":7,"s":"S","v":0.389},{"e":8,"s":"S","v":0.39},{"e":9,"s":"S","v":0.42},{"e":10,"s":"S","v":0.432},{"e":11,"s":"S","v":0.432},{"e":12,"s":"S","v":0.443},{"e":13,"s":"S","v":0.445},{"e":14,"s":"S","v":0.452},{"e":15,"s":"S","v":0.458},{"e":16,"s":"S","v":0.465},{"e":17,"s":"S","v":0.48},{"e":18,"s":"S","v":0.476},{"e":19,"s":"S","v":0.486},{"e":20,"s":"S","v":0.494},{"e":21,"s":"S","v":0.498},{"e":22,"s":"S","v":0.506},{"e":23,"s":"S","v":0.51},{"e":24,"s":"S","v":0.518},{"e":25,"s":"S","v":0.53},{"e":26,"s":"S","v":0.526},{"e":27,"s":"S","v":0.532},{"e":28,"s":"S","v":0.54},{"e":29,"s":"S","v":0.545},{"e":30,"s":"S","v":0.55},{"e":32,"s":"S","v":0.56},{"e":34,"s":"S","v":0.572},{"e":36,"s":"S","v":0.584},{"e":38,"s":"S","v":0.596},{"e":40,"s":"S","v":0.606},{"e":42,"s":"S","v":0.615},{"e":44,"s":"S","v":0.624},{"e":46,"s":"S","v":0.633},{"e":48,"s":"S","v":0.641},{"e":50,"s":"S","v":0.648},{"e":52,"s":"S","v":0.656},{"e":55,"s":"S","v":0.666},{"e":58,"s":"S","v":0.675},{"e":60,"s":"S","v":0.684},{"e":62,"s":"S","v":0.689},{"e":65,"s":"S","v":0.695},{"e":68,"s":"S","v":0.702},{"e":70,"s":"S","v":0.707},{"e":73,"s":"S","v":0.713},{"e":75,"s":"S","v":0.717},{"e":78,"s":"S","v":0.723},{"e":80,"s":"S","v":0.726},{"e":83,"s":"S","v":0.73},{"e":85,"s":"S","v":0.732},{"e":88,"s":"S","v":0.736},{"e":90,"s":"S","v":0.738},{"e":93,"s":"S","v":0.741},{"e":95,"s":"S","v":0.742},{"e":98,"s":"S","v":0.745},{"e":100,"s":"S","v":0.746},{"e":103,"s":"S","v":0.748},{"e":105,"s":"S","v":0.75},{"e":108,"s":"S","v":0.752},{"e":110,"s":"S","v":0.753},{"e":113,"s":"S","v":0.755},{"e":115,"s":"S","v":0.756},{"e":117,"s":"S","v":0.757},{"e":119,"s":"S","v":0.758}
]
},
"vconcat":[
{"hconcat":[
{"width":522,"height":505,"layer":[
{"data":{"name":"a"},"mark":{"type":"line","strokeWidth":3.5,"clip":true},"encoding":{
"x":{"field":"e","type":"quantitative","title":"Epochs","scale":{"domain":[-1,121],"nice":false,"zero":false},"axis":{"values":[0,10,20,30,40,50,60,70,80,90,100,110,120],"labelExpr":"datum.value % 20 == 0 ? datum.label : ''","tickSize":{"condition":{"test":"datum.value % 20 != 0","value":-6},"value":-10},"labelPadding":16,"titlePadding":3}},
"y":{"field":"v","type":"quantitative","title":"Bbox Loss","scale":{"domain":[0.01,0.0952],"nice":false,"zero":false},"axis":{"values":[0.01,0.015,0.02,0.025,0.03,0.035,0.04,0.045,0.05,0.055,0.06,0.065,0.07,0.075,0.08,0.085,0.09],"format":".2f","labelExpr":"round(datum.value*1000) % 10 == 0 ? datum.label : ''","tickSize":{"condition":{"test":"round(datum.value*1000) % 10 != 0","value":-6},"value":-10},"labelPadding":18,"titlePadding":10}},
"color":{"field":"s","type":"nominal","scale":{"domain":["TP","VP","TS","VS"],"range":["#000000","#ff0000","#00ff00","#0000ff"]},"legend":{"title":null,"legendX":214,"legendY":9,"labelExpr":"datum.label=='TP'?'Train-Pretrained':datum.label=='VP'?'Val-Pretrained':datum.label=='TS'?'Train-Scratch':'Val-Scratch'"}}}},
{"data":{"values":[{}]},"mark":{"type":"text","text":"(a)","fontSize":46,"font":"Liberation Sans","align":"left","baseline":"middle","color":"#000000"},"encoding":{"x":{"datum":2.0,"type":"quantitative","title":"Epochs"},"y":{"datum":0.0156,"type":"quantitative","title":"Bbox Loss"}}}
]},
{"hconcat":[
{"width":522,"height":505,"layer":[
{"data":{"name":"b"},"mark":{"type":"line","strokeWidth":3.5,"clip":true},"encoding":{
"x":{"field":"e","type":"quantitative","title":"Epochs","scale":{"domain":[-1,121],"nice":false,"zero":false},"axis":{"values":[0,10,20,30,40,50,60,70,80,90,100,110,120],"labelExpr":"datum.value % 20 == 0 ? datum.label : ''","tickSize":{"condition":{"test":"datum.value % 20 != 0","value":-6},"value":-10},"labelPadding":16,"titlePadding":3}},
"y":{"field":"v","type":"quantitative","title":"Obj Loss","scale":{"domain":[0.01,0.0952],"nice":false,"zero":false},"axis":{"values":[0.01,0.015,0.02,0.025,0.03,0.035,0.04,0.045,0.05,0.055,0.06,0.065,0.07,0.075,0.08,0.085,0.09],"format":".2f","labelExpr":"round(datum.value*1000) % 10 == 0 ? datum.label : ''","tickSize":{"condition":{"test":"round(datum.value*1000) % 10 != 0","value":-6},"value":-10},"labelPadding":18,"titlePadding":10}},
"color":{"field":"s","type":"nominal","scale":{"domain":["TP","VP","TS","VS"],"range":["#000000","#ff0000","#00ff00","#0000ff"]},"legend":{"title":null,"legendX":210,"legendY":6,"labelExpr":"datum.label=='TP'?'Train-Pretrained':datum.label=='VP'?'Val-Pretrained':datum.label=='TS'?'Train-Scratch':'Val-Scratch'"}}}},
{"data":{"values":[{}]},"mark":{"type":"text","text":"(b)","fontSize":46,"font":"Liberation Sans","align":"left","baseline":"middle","color":"#000000"},"encoding":{"x":{"datum":3.4,"type":"quantitative","title":"Epochs"},"y":{"datum":0.0161,"type":"quantitative","title":"Obj Loss"}}}
]},
{"width":522,"height":505,"layer":[
{"data":{"name":"c"},"mark":{"type":"line","strokeWidth":3.5,"clip":true},"encoding":{
"x":{"field":"e","type":"quantitative","title":"Epochs","scale":{"domain":[-1,121],"nice":false,"zero":false},"axis":{"values":[0,10,20,30,40,50,60,70,80,90,100,110,120],"labelExpr":"datum.value % 20 == 0 ? datum.label : ''","tickSize":{"condition":{"test":"datum.value % 20 != 0","value":-6},"value":-10},"labelPadding":16,"titlePadding":3}},
"y":{"field":"v","type":"quantitative","title":"Precision","scale":{"domain":[0.35,1.0],"nice":false,"zero":false},"axis":{"values":[0.4,0.45,0.5,0.55,0.6,0.65,0.7,0.75,0.8,0.85,0.9,0.95,1.0],"format":".1f","labelExpr":"round(datum.value*100) % 10 == 0 ? datum.label : ''","tickSize":{"condition":{"test":"round(datum.value*100) % 10 != 0","value":-6},"value":-10},"labelPadding":18,"titlePadding":10}},
"color":{"field":"s","type":"nominal","scale":{"domain":["P","S"],"range":["#000000","#ff0000"]},"legend":{"title":null,"legendX":292,"legendY":42,"labelExpr":"datum.label=='P'?'Pretrained':'Scratch'"}}}},
{"data":{"values":[{}]},"mark":{"type":"text","text":"(c)","fontSize":46,"font":"Liberation Sans","align":"left","baseline":"middle","color":"#000000"},"encoding":{"x":{"datum":4.2,"type":"quantitative","title":"Epochs"},"y":{"datum":0.398,"type":"quantitative","title":"Precision"}}}
]}
],"spacing":112,"bounds":"flush","resolve":{"scale":{"color":"independent","x":"independent","y":"independent"}}}
],"spacing":122,"bounds":"flush","resolve":{"scale":{"color":"independent","x":"independent","y":"independent"}}},
{"hconcat":[
{"width":522,"height":505,"layer":[
{"data":{"name":"d"},"mark":{"type":"line","strokeWidth":3.5,"clip":true},"encoding":{
"x":{"field":"e","type":"quantitative","title":"Epochs","scale":{"domain":[-1,121],"nice":false,"zero":false},"axis":{"values":[0,10,20,30,40,50,60,70,80,90,100,110,120],"labelExpr":"datum.value % 20 == 0 ? datum.label : ''","tickSize":{"condition":{"test":"datum.value % 20 != 0","value":-6},"value":-10},"labelPadding":16,"titlePadding":3}},
"y":{"field":"v","type":"quantitative","title":"Recall","scale":{"domain":[0.35,1.0],"nice":false,"zero":false},"axis":{"values":[0.4,0.45,0.5,0.55,0.6,0.65,0.7,0.75,0.8,0.85,0.9,0.95,1.0],"format":".1f","labelExpr":"round(datum.value*100) % 10 == 0 ? datum.label : ''","tickSize":{"condition":{"test":"round(datum.value*100) % 10 != 0","value":-6},"value":-10},"labelPadding":18,"titlePadding":10}},
"color":{"field":"s","type":"nominal","scale":{"domain":["P","S"],"range":["#000000","#ff0000"]},"legend":{"title":null,"legendX":297,"legendY":65,"labelExpr":"datum.label=='P'?'Pretrained':'Scratch'"}}}},
{"data":{"values":[{}]},"mark":{"type":"text","text":"(d)","fontSize":46,"font":"Liberation Sans","align":"left","baseline":"middle","color":"#000000"},"encoding":{"x":{"datum":3.9,"type":"quantitative","title":"Epochs"},"y":{"datum":0.397,"type":"quantitative","title":"Recall"}}}
]},
{"hconcat":[
{"width":522,"height":505,"layer":[
{"data":{"name":"e"},"mark":{"type":"line","strokeWidth":3.5,"clip":true},"encoding":{
"x":{"field":"e","type":"quantitative","title":"Epochs","scale":{"domain":[-1,121],"nice":false,"zero":false},"axis":{"values":[0,10,20,30,40,50,60,70,80,90,100,110,120],"labelExpr":"datum.value % 20 == 0 ? datum.label : ''","tickSize":{"condition":{"test":"datum.value % 20 != 0","value":-6},"value":-10},"labelPadding":16,"titlePadding":3}},
"y":{"field":"v","type":"quantitative","title":"mAP@0.5","scale":{"domain":[0.35,1.0],"nice":false,"zero":false},"axis":{"values":[0.4,0.45,0.5,0.55,0.6,0.65,0.7,0.75,0.8,0.85,0.9,0.95,1.0],"format":".1f","labelExpr":"round(datum.value*100) % 10 == 0 ? datum.label : ''","tickSize":{"condition":{"test":"round(datum.value*100) % 10 != 0","value":-6},"value":-10},"labelPadding":18,"titlePadding":10}},
"color":{"field":"s","type":"nominal","scale":{"domain":["P","S"],"range":["#000000","#ff0000"]},"legend":{"title":null,"legendX":293,"legendY":34,"labelExpr":"datum.label=='P'?'Pretrained':'Scratch'"}}}},
{"data":{"values":[{}]},"mark":{"type":"text","text":"(e)","fontSize":46,"font":"Liberation Sans","align":"left","baseline":"middle","color":"#000000"},"encoding":{"x":{"datum":4.4,"type":"quantitative","title":"Epochs"},"y":{"datum":0.396,"type":"quantitative","title":"mAP@0.5"}}}
]},
{"width":522,"height":505,"layer":[
{"data":{"name":"f"},"mark":{"type":"line","strokeWidth":3.5,"clip":true},"encoding":{
"x":{"field":"e","type":"quantitative","title":"Epochs","scale":{"domain":[-1,121],"nice":false,"zero":false},"axis":{"values":[0,10,20,30,40,50,60,70,80,90,100,110,120],"labelExpr":"datum.value % 20 == 0 ? datum.label : ''","tickSize":{"condition":{"test":"datum.value % 20 != 0","value":-6},"value":-10},"labelPadding":16,"titlePadding":3}},
"y":{"field":"v","type":"quantitative","title":"mAP@0.5-0.95","scale":{"domain":[0.1,1.0],"nice":false,"zero":false},"axis":{"values":[0.2,0.3,0.4,0.5,0.6,0.7,0.8,0.9,1.0],"format":".1f","labelExpr":"round(datum.value*10) % 2 == 0 ? datum.label : ''","tickSize":{"condition":{"test":"round(datum.value*10) % 2 != 0","value":-6},"value":-10},"labelPadding":18,"titlePadding":10}},
"color":{"field":"s","type":"nominal","scale":{"domain":["P","S"],"range":["#000000","#ff0000"]},"legend":{"title":null,"legendX":21,"legendY":7,"labelExpr":"datum.label=='P'?'Pretrained':'Scratch'"}}}},
{"data":{"values":[{}]},"mark":{"type":"text","text":"(f)","fontSize":46,"font":"Liberation Sans","align":"left","baseline":"middle","color":"#000000"},"encoding":{"x":{"datum":4.7,"type":"quantitative","title":"Epochs"},"y":{"datum":0.16,"type":"quantitative","title":"mAP@0.5-0.95"}}}
]}
],"spacing":112,"bounds":"flush","resolve":{"scale":{"color":"independent","x":"independent","y":"independent"}}}
],"spacing":122,"bounds":"flush","resolve":{"scale":{"color":"independent","x":"independent","y":"independent"}}}
],
"spacing":-4,
"bounds":"full",
"resolve":{"scale":{"color":"independent","x":"independent","y":"independent"}}
}
